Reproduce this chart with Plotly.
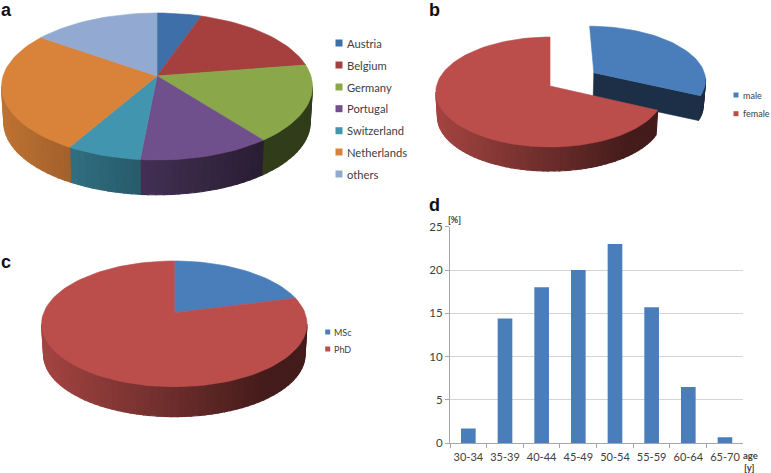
import math
import plotly.graph_objects as go

# ---- data ----
countries = ["Austria", "Belgium", "Germany", "Portugal", "Switzerland", "Netherlands", "others"]
country_share = [5.3, 17.2, 17.0, 12.0, 6.8, 26.5, 15.2]
genders = ["male", "female"]
gender_share = [32, 68]
degrees = ["MSc", "PhD"]
degree_share = [21, 79]
age_groups = ["30-34", "35-39", "40-44", "45-49", "50-54", "55-59", "60-64", "65-70"]
age_share = [1.7, 14.4, 18, 20, 23, 15.7, 6.5, 0.7]
y_ticks = [0, 5, 10, 15, 20, 25]

# ---- styles ----
country_colors = ["#3f6fa8", "#a6403f", "#8aa84a", "#70508c", "#4195ae", "#d9823a", "#92a9d1"]
gender_colors = ["#4a7ebb", "#bb4e4b"]
degree_colors = ["#4a7ebb", "#bb4e4b"]
BAR = "#4a7ebb"
TXT = "#404040"
FONT = "Lato, Open Sans, sans-serif"
W, H = 771, 473

fig = go.Figure()


def shade(color, f):
    r, g, b = int(color[1:3], 16), int(color[3:5], 16), int(color[5:7], 16)
    return f"rgb({int(r*f)},{int(g*f)},{int(b*f)})"


def poly(pts, color, lw=0.6):
    fig.add_trace(go.Scatter(
        x=[p[0] for p in pts], y=[p[1] for p in pts], mode="lines", fill="toself",
        fillcolor=color, line=dict(color=color, width=lw), hoverinfo="skip",
        showlegend=False, xaxis="x", yaxis="y"))


def draw_pie(values, colors, g, explode=None):
    """Perspective-projected 3D pie: g holds apex, radii, perspective k and depth."""
    total = sum(values)
    cx, cy, R, S, k, depth = g["cx"], g["cy"], g["R"], g["S"], g["k"], g["depth"]
    s = 0.985

    def proj_xy(X, Y, bottom=False):
        w = 1 + k * Y
        dx, dy = R * X / w, S * Y / w
        if bottom:
            return (cx + dx * s, cy - dy * s + depth)
        return (cx + dx, cy - dy)

    def proj(th, ex=0.0, bis=0.0, bottom=False):
        return proj_xy(math.sin(th) + ex * math.sin(bis), math.cos(th) + ex * math.cos(bis), bottom)

    tmin = math.acos(-k)
    tmax = 2 * math.pi - tmin
    step = math.radians(2.5)
    slices = []
    a = 0.0
    for i, v in enumerate(values):
        b = a + 2 * math.pi * v / total
        slices.append((i, a, b))
        a = b
    slices.sort(key=lambda t: 1 if (explode == t[0]) else 0)
    # all side strips first, so neighbouring tops never get overdrawn
    for i, a, b in slices:
        col = colors[i]
        bis = (a + b) / 2
        ex = g.get("explode", 0) if explode == i else 0
        ox, oy = ex * math.sin(bis), ex * math.cos(bis)
        t0, t1 = max(a, tmin), min(b, tmax)
        n = max(1, int((t1 - t0) / step)) if t1 > t0 else 0
        for j in range(n):
            u0 = t0 + (t1 - t0) * j / n
            u1 = t0 + (t1 - t0) * (j + 1) / n
            p0, p1 = proj(u0, ex, bis), proj(u1, ex, bis)
            q0, q1 = proj(u0, ex, bis, True), proj(u1, ex, bis, True)
            frac = ((p0[0] + p1[0]) / 2 - cx + g["rx"]) / (2 * g["rx"])
            frac = min(max(frac, 0), 1)
            poly([p0, p1, q1, q0, p0], shade(col, 0.88 - 0.52 * min(frac / 0.85, 1)), lw=1.2)
        if ex:
            ap, ab = proj_xy(ox, oy), proj_xy(ox, oy, True)
            cp, cb = proj(b, ex, bis), proj(b, ex, bis, True)
            poly([ap, cp, cb, ab, ap], shade(col, 0.38))
    for i, a, b in slices:
        col = colors[i]
        bis = (a + b) / 2
        ex = g.get("explode", 0) if explode == i else 0
        ox, oy = ex * math.sin(bis), ex * math.cos(bis)
        n = max(2, int((b - a) / step))
        arc = [proj(a + (b - a) * j / n, ex, bis) for j in range(n + 1)]
        ap = proj_xy(ox, oy)
        poly([ap] + arc + [ap], col)


def legend(names, colors, mx, tx, ys, size, msize):
    fig.add_trace(go.Scatter(
        x=[mx] * len(names), y=ys, mode="markers", hoverinfo="skip", showlegend=False,
        marker=dict(symbol="square", size=msize, color=colors), xaxis="x", yaxis="y"))
    for n, y in zip(names, ys):
        fig.add_annotation(x=tx, y=y, xref="x", yref="y", text=n, showarrow=False, xanchor="left",
                           yanchor="middle", font=dict(family=FONT, size=size, color=TXT))


draw_pie(country_share, country_colors,
         dict(cx=157, cy=76, R=153.9, S=72, k=1 / 7, depth=36, rx=155.5))
draw_pie(gender_share, gender_colors,
         dict(cx=550, cy=86, R=113.5, S=54.3, k=0.109, depth=25, rx=115.5, explode=0.47), explode=0)
draw_pie(degree_share, degree_colors,
         dict(cx=174.3, cy=312.7, R=130.6, S=60.9, k=0.1773, depth=31, rx=132.7))

legend(countries, country_colors, 339, 345, [43, 65, 87, 108.7, 130.7, 152, 174], 11.2, 7)
legend(genders, gender_colors, 736, 740.5, [95, 113.7], 9, 5)
legend(degrees, degree_colors, 327.7, 332, [332, 349], 9, 5)

for letter, x, y in [("a", 6, 10), ("b", 434, 10), ("c", 6, 262), ("d", 434, 205)]:
    fig.add_annotation(x=x, y=y, xref="x", yref="y", text=f"<b>{letter}</b>", showarrow=False,
                       xanchor="center", yanchor="middle",
                       font=dict(family="Liberation Sans", size=18, color="#111111"))

fig.add_trace(go.Bar(x=age_groups, y=age_share, marker=dict(color=BAR, line=dict(width=0)),
                     xaxis="x2", yaxis="y2", showlegend=False, hoverinfo="skip"))

for t, x, y, sz in [("<b>[%]</b>", 454, 219, 9), ("<b>age</b>", 750, 455, 9.5), ("<b>[y]</b>", 749, 467, 9.5)]:
    fig.add_annotation(x=x, y=y, xref="x", yref="y", text=t, showarrow=False, xanchor="center",
                       yanchor="middle", font=dict(family=FONT, size=sz, color=TXT))

AX = "#a6a6a6"
fig.update_layout(
    width=W, height=H, margin=dict(l=0, r=0, t=0, b=0), paper_bgcolor="white", plot_bgcolor="white",
    showlegend=False, bargap=0.6,
    xaxis=dict(domain=[0, 1], range=[0, W], visible=False, fixedrange=True, automargin=False),
    yaxis=dict(domain=[0, 1], range=[H, 0], visible=False, fixedrange=True, automargin=False),
    xaxis2=dict(domain=[450 / W, 743.3 / W], anchor="y2", type="category", categoryorder="array",
                categoryarray=age_groups, tickson="boundaries", ticks="outside", ticklen=4, tickcolor=AX,
                showline=True, linecolor=AX, showgrid=False, tickangle=0, automargin=False,
                ticklabelstandoff=3, tickfont=dict(family=FONT, size=11, color=TXT)),
    yaxis2=dict(domain=[1 - 443.3 / H, 1 - 226.7 / H], anchor="x2", range=[0, 25], tickvals=y_ticks,
                ticks="outside", ticklen=4, tickcolor=AX, showline=True, linecolor=AX, automargin=False,
                showgrid=True, gridcolor="#d4d4d4", gridwidth=1.3, zeroline=False,
                tickfont=dict(family=FONT, size=11.5, color=TXT)),
)
fig.write_html("out.html", config={"displayModeBar": False},
               post_script="document.body.style.margin='0';document.body.style.overflow='hidden';")
